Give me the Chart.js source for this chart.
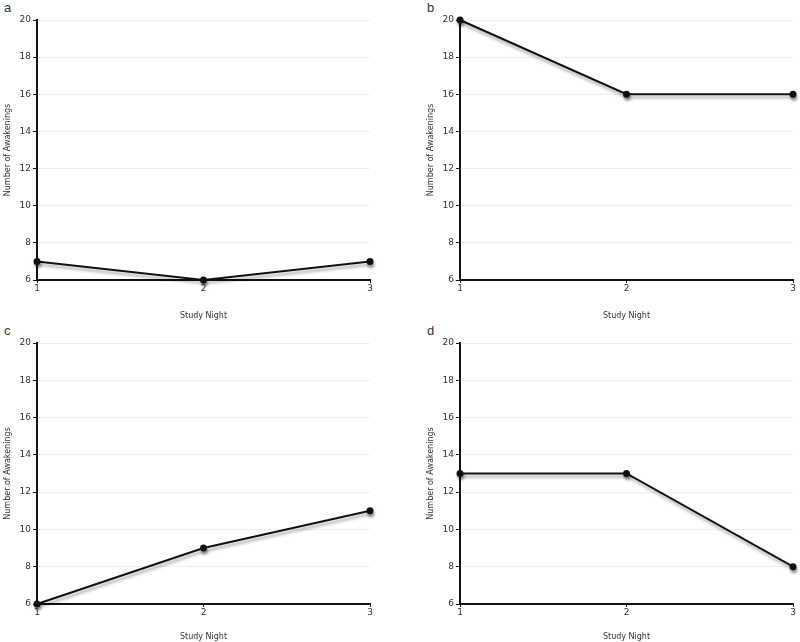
<!DOCTYPE html>
<html><head><meta charset="utf-8">
<script src="https://cdn.jsdelivr.net/npm/chart.js@4/dist/chart.umd.min.js"></script>
<style>
html,body{margin:0;padding:0;background:#fff;width:800px;height:642px;overflow:hidden;position:relative;font-family:"DejaVu Sans",sans-serif}
.box{position:absolute}
.lab{position:absolute;font-size:13px;color:#333;font-family:"Liberation Sans",Arial,sans-serif}
</style></head><body>
<div class="lab" style="left:4px;top:0px">a</div>
<div class="lab" style="left:427px;top:0px">b</div>
<div class="lab" style="left:4px;top:323px">c</div>
<div class="lab" style="left:427px;top:323px">d</div>
<div class="box" style="left:0;top:0;width:377px;height:321px"><canvas id="ca"></canvas></div>
<div class="box" style="left:423px;top:0;width:377px;height:321px"><canvas id="cb"></canvas></div>
<div class="box" style="left:0;top:323px;width:377px;height:319px"><canvas id="cc"></canvas></div>
<div class="box" style="left:423px;top:323px;width:377px;height:319px"><canvas id="cd"></canvas></div>
<script>
const studyNights = [1, 2, 3];
const awakeningsA = [7, 6, 7];
const awakeningsB = [20, 16, 16];
const awakeningsC = [6, 9, 11];
const awakeningsD = [13, 13, 8];
const yTicks = [6, 8, 10, 12, 14, 16, 18, 20];

const shadowPlugin = {
  id: 'shadow',
  beforeDatasetDraw(chart) {
    const c = chart.ctx; c.save();
    c.shadowColor = 'rgba(0,0,0,0.35)'; c.shadowBlur = 3; c.shadowOffsetX = 1; c.shadowOffsetY = 3;
  },
  afterDatasetDraw(chart) { chart.ctx.restore(); }
};

function makeChart(id, values, xh) {
  new Chart(document.getElementById(id), {
    type: 'line',
    data: { datasets: [{
      data: studyNights.map((x, i) => ({ x: x, y: values[i] })),
      borderColor: '#111', borderWidth: 2, backgroundColor: '#111',
      pointRadius: 2.5, pointBackgroundColor: '#111', pointBorderColor: '#111',
      tension: 0, clip: false
    }]},
    plugins: [shadowPlugin],
    options: {
      responsive: true, maintainAspectRatio: false, animation: false,
      layout: { padding: { top: 20, right: 7, left: 0, bottom: 0 } },
      plugins: { legend: { display: false }, tooltip: { enabled: false } },
      scales: {
        x: {
          type: 'linear', min: 1, max: 3,
          afterBuildTicks: s => { s.ticks = studyNights.map(v => ({ value: v })); },
          afterFit: s => { s.height = xh; },
          border: { display: true, color: '#111', width: 2 },
          grid: { drawOnChartArea: false, drawTicks: true, tickLength: 3, tickColor: '#111', lineWidth: 1 },
          ticks: { color: '#333', font: { size: 9, family: 'DejaVu Sans' }, padding: 0, maxRotation: 0 },
          title: { display: true, text: 'Study Night', color: '#333', font: { size: 8, family: 'DejaVu Sans' }, padding: { top: 9, bottom: 0 } }
        },
        y: {
          min: 6, max: 20,
          afterBuildTicks: s => { s.ticks = yTicks.map(v => ({ value: v })); },
          afterFit: s => { s.width = 37; },
          border: { display: true, color: '#111', width: 2 },
          grid: { color: '#eeeeee', lineWidth: 1, drawTicks: true, tickLength: 4, tickColor: '#111' },
          ticks: { color: '#333', font: { size: 9, family: 'DejaVu Sans' }, padding: 2 },
          title: { display: true, text: 'Number of Awakenings', color: '#333', font: { size: 8, family: 'DejaVu Sans' }, padding: { top: 3, bottom: 4 } }
        }
      }
    }
  });
}
makeChart('ca', awakeningsA, 41);
makeChart('cb', awakeningsB, 41);
makeChart('cc', awakeningsC, 38);
makeChart('cd', awakeningsD, 38);
</script>
</body></html>
